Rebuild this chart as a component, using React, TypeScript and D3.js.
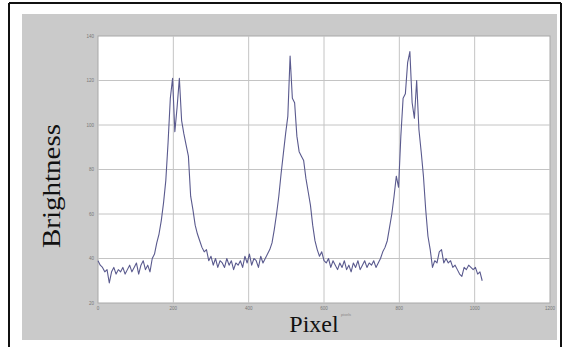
import React from "react";
import * as d3 from "d3";

const pixels = [
  0, 6, 12, 18, 24, 30, 36, 42, 48, 54, 60, 66, 72, 78, 84, 90, 96, 102, 108, 114,
  120, 126, 132, 138, 144, 150, 156, 162, 168, 174, 180, 186, 192, 198, 204, 210, 216, 222, 228, 234,
  240, 246, 252, 258, 264, 270, 276, 282, 288, 294, 300, 306, 312, 318, 324, 330, 336, 342, 348, 354,
  360, 366, 372, 378, 384, 390, 396, 402, 408, 414, 420, 426, 432, 438, 444, 450, 456, 462, 468, 474,
  480, 486, 492, 498, 504, 510, 516, 522, 528, 534, 540, 546, 552, 558, 564, 570, 576, 582, 588, 594,
  600, 606, 612, 618, 624, 630, 636, 642, 648, 654, 660, 666, 672, 678, 684, 690, 696, 702, 708, 714,
  720, 726, 732, 738, 744, 750, 756, 762, 768, 774, 780, 786, 792, 798, 804, 810, 816, 822, 828, 834,
  840, 846, 852, 858, 864, 870, 876, 882, 888, 894, 900, 906, 912, 918, 924, 930, 936, 942, 948, 954,
  960, 966, 972, 978, 984, 990, 996, 1002, 1008, 1014, 1020,
];

const brightness = [
  39, 37, 36, 34, 35, 29, 34, 36, 33, 35, 34, 36, 33, 35, 37, 34, 36, 38, 33, 37,
  39, 35, 37, 34, 40, 42, 47, 51, 57, 65, 75, 92, 112, 121, 97, 108, 121, 102, 96, 91,
  86, 68, 62, 55, 51, 48, 45, 43, 44, 39, 41, 37, 40, 36, 39, 38, 36, 40, 37, 39,
  35, 38, 37, 39, 36, 41, 38, 42, 37, 40, 39, 36, 41, 38, 40, 42, 44, 47, 53, 60,
  68, 78, 87, 96, 104, 131, 112, 110, 95, 88, 86, 84, 76, 70, 64, 55, 48, 44, 41, 43,
  39, 38, 40, 36, 39, 37, 35, 38, 36, 39, 35, 37, 34, 38, 36, 39, 35, 37, 39, 36,
  38, 37, 39, 36, 38, 40, 43, 45, 48, 54, 60, 68, 77, 72, 95, 112, 114, 128, 133, 110,
  103, 120, 98, 88, 77, 62, 50, 44, 36, 39, 38, 43, 44, 38, 40, 38, 39, 36, 37, 35,
  33, 32, 36, 35, 37, 36, 35, 36, 33, 34, 30,
];

const xTicks = [0, 200, 400, 600, 800, 1000, 1200];
const yTicks = [20, 40, 60, 80, 100, 120, 140];

const W = 563;
const H = 347;
const plot = { left: 98, right: 550, top: 36, bottom: 303 };

export default function App() {
  const x = d3.scaleLinear().domain([0, 1200]).range([plot.left, plot.right]);
  const y = d3.scaleLinear().domain([20, 140]).range([plot.bottom, plot.top]);
  const pts: [number, number][] = pixels.map((p, i) => [p, brightness[i]]);
  const line = d3
    .line<[number, number]>()
    .x((d) => x(d[0]))
    .y((d) => y(d[1]));

  return (
    <svg
      width={W}
      height={H}
      style={{ position: "absolute", left: 0, top: 0, background: "#fff" }}
    >
      {/* outer frame */}
      <rect x={0} y={0} width={W} height={H} fill="#fff" />
      <line x1={9} y1={3} x2={561} y2={3} stroke="#111" strokeWidth={2} />
      <line x1={9} y1={3} x2={9} y2={H} stroke="#111" strokeWidth={2} />
      <line x1={561} y1={3} x2={561} y2={H} stroke="#111" strokeWidth={2} />
      {/* gray panel */}
      <rect x={22} y={14} width={535} height={326} fill="#cacaca" />
      {/* plot area */}
      <rect
        x={plot.left}
        y={plot.top}
        width={plot.right - plot.left}
        height={plot.bottom - plot.top}
        fill="#fff"
        stroke="#a8a8a8"
        strokeWidth={1}
      />
      {/* grid */}
      {xTicks.slice(1, -1).map((t) => (
        <line
          key={"gx" + t}
          x1={x(t)}
          x2={x(t)}
          y1={plot.top}
          y2={plot.bottom}
          stroke="#c4c4c4"
          strokeWidth={1}
        />
      ))}
      {yTicks.slice(1, -1).map((t) => (
        <line
          key={"gy" + t}
          x1={plot.left}
          x2={plot.right}
          y1={y(t)}
          y2={y(t)}
          stroke="#c4c4c4"
          strokeWidth={1}
        />
      ))}
      {/* tick labels */}
      {xTicks.map((t) => (
        <text
          key={"tx" + t}
          x={x(t)}
          y={310}
          fontSize={4.5}
          fill="#777"
          textAnchor="middle"
          fontFamily="Liberation Sans, sans-serif"
        >
          {t}
        </text>
      ))}
      {yTicks.map((t) => (
        <text
          key={"ty" + t}
          x={94}
          y={y(t) + 1.5}
          fontSize={4.5}
          fill="#777"
          textAnchor="end"
          fontFamily="Liberation Sans, sans-serif"
        >
          {t}
        </text>
      ))}
      {/* data line */}
      <path
        d={line(pts) || ""}
        fill="none"
        stroke="#5a5a8e"
        strokeWidth={1.1}
        strokeLinejoin="round"
      />
      {/* axis titles */}
      <text
        x={314}
        y={332}
        fontSize={24}
        textAnchor="middle"
        fontFamily="Liberation Serif, serif"
        fill="#111"
      >
        Pixel
      </text>
      <text
        x={346}
        y={316}
        fontSize={4}
        textAnchor="middle"
        fontFamily="Liberation Sans, sans-serif"
        fill="#888"
      >
        pixels
      </text>
      <text
        transform={`translate(60,186) rotate(-90)`}
        fontSize={26}
        textAnchor="middle"
        fontFamily="Liberation Serif, serif"
        fill="#111"
        textLength={124}
        lengthAdjust="spacingAndGlyphs"
      >
        Brightness
      </text>
    </svg>
  );
}
